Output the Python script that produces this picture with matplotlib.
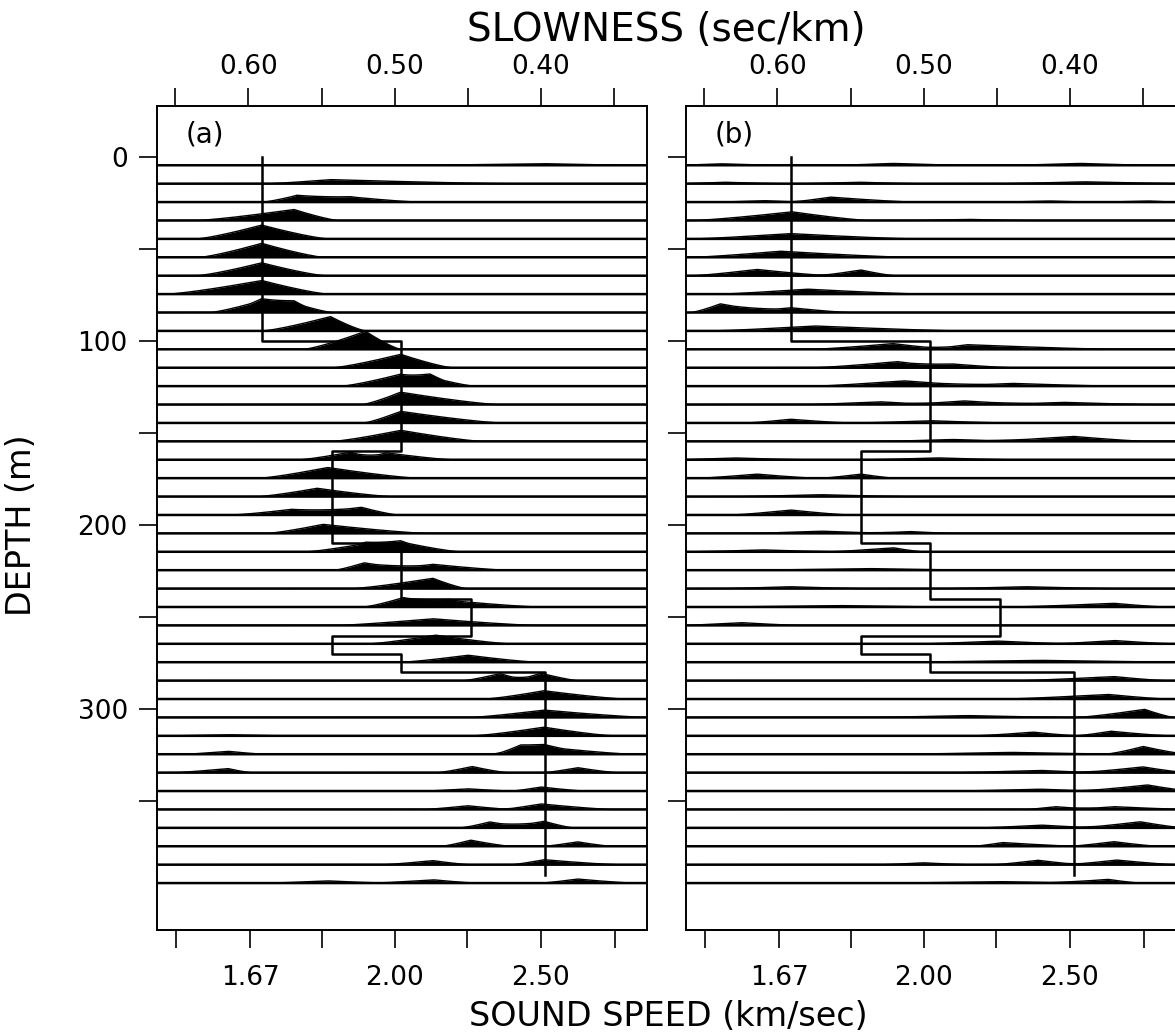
import numpy as np
import matplotlib.pyplot as plt
from matplotlib.ticker import FormatStrFormatter, NullFormatter

# --- datos
depths = np.arange(4.5, 400, 10)          # profundidad de cada traza (m)
layer_tops = [0, 100, 160, 210, 240, 260, 270, 280]
layer_bottom = 390
layer_slowness = [0.591, 0.496, 0.543, 0.496, 0.448, 0.543, 0.496, 0.397]

slow_major = [0.60, 0.50, 0.40]
slow_minor = [0.65, 0.55, 0.45, 0.35]
speed_ticks = [1.54, 1.67, 1.82, 2.00, 2.22, 2.50, 2.86]
speed_labels = ['', '1.67', '', '2.00', '', '2.50', '']
depth_major = [0, 100, 200, 300]
depth_minor = [50, 150, 250, 350]

# (traza, lentitud del pico, amplitud en m, ancho izq, ancho der)
peaks_a = [
    (0, 0.400, 0.9, 0.084, 0.064),
    (1, 0.544, 2.2, 0.043, 0.120),
    (2, 0.567, 3.6, 0.023, 0.040), (2, 0.530, 2.8, 0.040, 0.046),
    (3, 0.569, 6.0, 0.066, 0.030),
    (4, 0.591, 7.5, 0.044, 0.045),
    (5, 0.591, 7.6, 0.042, 0.042),
    (6, 0.591, 7.0, 0.044, 0.043),
    (7, 0.591, 7.4, 0.064, 0.045),
    (8, 0.591, 6.5, 0.035, 0.030), (8, 0.569, 5.2, 0.030, 0.026),
    (9, 0.544, 7.8, 0.046, 0.024),
    (10, 0.520, 9.8, 0.042, 0.024),
    (11, 0.496, 7.3, 0.046, 0.035),
    (12, 0.496, 6.5, 0.040, 0.030), (12, 0.476, 5.0, 0.020, 0.030),
    (13, 0.496, 6.7, 0.026, 0.066),
    (14, 0.496, 6.3, 0.025, 0.068),
    (15, 0.496, 6.0, 0.046, 0.055),
    (16, 0.530, 4.2, 0.035, 0.020), (16, 0.506, 3.8, 0.020, 0.045),
    (17, 0.546, 5.8, 0.046, 0.061),
    (18, 0.553, 4.5, 0.040, 0.050),
    (19, 0.571, 3.0, 0.040, 0.040), (19, 0.523, 4.2, 0.050, 0.025),
    (20, 0.549, 4.9, 0.038, 0.070),
    (21, 0.520, 4.5, 0.040, 0.030), (21, 0.496, 5.4, 0.030, 0.040),
    (22, 0.521, 4.0, 0.020, 0.040), (22, 0.474, 3.2, 0.040, 0.050),
    (23, 0.474, 5.6, 0.055, 0.023),
    (24, 0.494, 5.1, 0.027, 0.040), (24, 0.462, 3.5, 0.030, 0.060),
    (25, 0.474, 3.6, 0.065, 0.070),
    (26, 0.472, 4.7, 0.045, 0.050),
    (27, 0.450, 3.8, 0.045, 0.047),
    (28, 0.428, 3.8, 0.025, 0.020), (28, 0.400, 4.0, 0.020, 0.025),
    (29, 0.398, 4.5, 0.040, 0.055),
    (30, 0.398, 4.0, 0.050, 0.070),
    (31, 0.398, 4.7, 0.048, 0.047), (31, 0.614, 0.6, 0.040, 0.040),
    (32, 0.414, 3.5, 0.020, 0.030), (32, 0.398, 4.0, 0.030, 0.060),
    (32, 0.614, 1.6, 0.030, 0.025),
    (33, 0.614, 2.2, 0.037, 0.016), (33, 0.447, 3.3, 0.024, 0.024),
    (33, 0.375, 2.7, 0.023, 0.027),
    (34, 0.400, 2.2, 0.020, 0.030), (34, 0.450, 1.2, 0.030, 0.030),
    (35, 0.400, 3.0, 0.027, 0.048), (35, 0.450, 2.0, 0.030, 0.030),
    (36, 0.435, 3.2, 0.020, 0.030), (36, 0.398, 3.6, 0.030, 0.020),
    (37, 0.448, 3.3, 0.020, 0.027), (37, 0.375, 2.4, 0.023, 0.023),
    (38, 0.474, 2.2, 0.034, 0.025), (38, 0.398, 2.7, 0.022, 0.050),
    (39, 0.546, 1.2, 0.040, 0.040), (39, 0.474, 1.8, 0.040, 0.030),
    (39, 0.375, 2.2, 0.025, 0.038),
]

peaks_b = [
    (0, 0.639, 0.8, 0.030, 0.040), (0, 0.521, 1.0, 0.040, 0.050), (0, 0.393, 1.0, 0.050, 0.050),
    (1, 0.637, 0.8, 0.030, 0.040), (1, 0.545, 0.8, 0.040, 0.040), (1, 0.390, 1.0, 0.060, 0.070),
    (2, 0.564, 2.7, 0.027, 0.057), (2, 0.610, 0.8, 0.030, 0.030), (2, 0.415, 0.6, 0.030, 0.030),
    (2, 0.347, 0.6, 0.030, 0.020),
    (3, 0.590, 4.7, 0.067, 0.052), (3, 0.470, 0.6, 0.040, 0.040),
    (4, 0.592, 2.9, 0.065, 0.085),
    (5, 0.598, 3.3, 0.060, 0.087),
    (6, 0.614, 3.4, 0.044, 0.050), (6, 0.543, 3.1, 0.030, 0.023),
    (7, 0.580, 2.7, 0.060, 0.080),
    (8, 0.639, 4.7, 0.020, 0.040), (8, 0.591, 2.6, 0.040, 0.040),
    (9, 0.575, 2.7, 0.070, 0.100),
    (10, 0.521, 3.1, 0.055, 0.040), (10, 0.470, 2.5, 0.030, 0.100),
    (11, 0.518, 3.3, 0.057, 0.040), (11, 0.480, 2.0, 0.030, 0.040),
    (12, 0.514, 2.9, 0.060, 0.060), (12, 0.440, 1.5, 0.050, 0.070),
    (13, 0.473, 2.0, 0.040, 0.050), (13, 0.530, 1.5, 0.050, 0.040), (13, 0.405, 1.2, 0.050, 0.060),
    (14, 0.591, 2.0, 0.030, 0.040), (14, 0.495, 1.2, 0.050, 0.050),
    (15, 0.398, 2.7, 0.060, 0.050), (15, 0.480, 1.0, 0.050, 0.050),
    (16, 0.630, 1.0, 0.040, 0.050), (16, 0.490, 1.0, 0.050, 0.050),
    (17, 0.614, 2.2, 0.040, 0.040), (17, 0.543, 2.2, 0.027, 0.023),
    (18, 0.570, 1.0, 0.060, 0.060),
    (19, 0.591, 2.7, 0.040, 0.040),
    (20, 0.570, 1.2, 0.050, 0.050), (20, 0.510, 1.0, 0.030, 0.030),
    (21, 0.521, 2.2, 0.043, 0.020), (21, 0.610, 1.0, 0.050, 0.050),
    (22, 0.540, 0.9, 0.080, 0.080),
    (23, 0.591, 1.0, 0.050, 0.050), (23, 0.430, 1.0, 0.060, 0.060),
    (24, 0.370, 2.0, 0.070, 0.035), (24, 0.560, 0.8, 0.080, 0.080),
    (25, 0.625, 1.5, 0.040, 0.040),
    (26, 0.450, 1.5, 0.050, 0.050), (26, 0.370, 1.8, 0.040, 0.040),
    (27, 0.420, 1.0, 0.100, 0.100),
    (28, 0.370, 2.2, 0.065, 0.035),
    (29, 0.374, 2.5, 0.070, 0.040),
    (30, 0.349, 4.4, 0.046, 0.020), (30, 0.470, 1.0, 0.070, 0.070),
    (31, 0.425, 2.0, 0.040, 0.030), (31, 0.372, 2.5, 0.024, 0.040),
    (32, 0.350, 4.2, 0.025, 0.030), (32, 0.440, 1.0, 0.080, 0.080),
    (33, 0.350, 3.1, 0.045, 0.030), (33, 0.420, 1.2, 0.060, 0.040),
    (34, 0.347, 3.3, 0.048, 0.030), (34, 0.420, 1.0, 0.060, 0.040),
    (35, 0.410, 1.5, 0.020, 0.030), (35, 0.370, 1.5, 0.030, 0.050),
    (36, 0.352, 3.3, 0.043, 0.030), (36, 0.420, 1.5, 0.040, 0.040),
    (37, 0.446, 2.0, 0.020, 0.050), (37, 0.370, 2.5, 0.030, 0.030),
    (38, 0.422, 2.4, 0.030, 0.030), (38, 0.368, 2.5, 0.035, 0.040), (38, 0.500, 1.0, 0.030, 0.030),
    (39, 0.374, 2.0, 0.040, 0.022), (39, 0.450, 0.8, 0.070, 0.070),
]

xlim = (0.6625, 0.3275)
ylim = (420, -27.7)


def wiggle(s, peaks):
    w = np.zeros_like(s)
    for c, a, el, er in peaks:
        d = s - c
        ext = np.where(d > 0, el, er)   # d>0 -> lado izquierdo (lentitud mayor)
        w += a * np.clip(1 - np.abs(d) / ext, 0, None) ** 1.25
    return w


def inv(x):
    x = np.asarray(x, dtype=float)
    with np.errstate(divide='ignore'):
        return 1.0 / x


def draw_panel(ax, peaks, tag, show_ylabels):
    s = np.linspace(xlim[0], xlim[1], 3000)
    for i, z in enumerate(depths):
        w = wiggle(s, [p[1:] for p in peaks if p[0] == i])
        ax.fill_between(s, z, z - w, color='k', lw=0)
        ax.plot(s, z - w, color='k', lw=1.0)
        ax.plot(s, np.full_like(s, z), color='k', lw=1.8)

    # perfil de velocidad
    bounds = layer_tops + [layer_bottom]
    px, py = [], []
    for k, sl in enumerate(layer_slowness):
        px += [sl, sl]
        py += [bounds[k], bounds[k + 1]]
    ax.plot(px, py, color='k', lw=1.8)

    ax.set_xlim(*xlim)
    ax.set_ylim(*ylim)
    for sp in ax.spines.values():
        sp.set_linewidth(1.4)

    ax.xaxis.tick_top()
    ax.set_xticks(slow_major)
    ax.set_xticks(slow_minor, minor=True)
    ax.xaxis.set_major_formatter(FormatStrFormatter('%.2f'))
    ax.tick_params(axis='x', which='both', direction='out', length=13,
                   width=1.2, labelsize=19, pad=6)

    ax.set_yticks(depth_major)
    ax.set_yticks(depth_minor, minor=True)
    ax.tick_params(axis='y', which='both', direction='out', length=13,
                   width=1.2, labelsize=19, pad=8, labelleft=show_ylabels)

    sec = ax.secondary_xaxis('bottom', functions=(inv, inv))
    sec.set_xticks(speed_ticks)
    sec.set_xticklabels(speed_labels)
    sec.xaxis.set_minor_formatter(NullFormatter())
    sec.tick_params(axis='x', which='major', direction='out', length=13,
                    width=1.2, pad=12, labelsize=19)
    sec.tick_params(axis='x', which='minor', length=0)
    sec.spines['bottom'].set_linewidth(1.4)

    ax.text(0.098, 0.965, tag, transform=ax.transAxes, fontsize=20,
            ha='center', va='center')


fig = plt.figure(figsize=(11.75, 10.35), dpi=100)
ax_a = fig.add_axes([157 / 1175, 1 - 930 / 1035, 490 / 1175, 824 / 1035])
ax_b = fig.add_axes([686 / 1175, 1 - 930 / 1035, 490 / 1175, 824 / 1035])

draw_panel(ax_a, peaks_a, '(a)', True)
draw_panel(ax_b, peaks_b, '(b)', False)

fig.text(666 / 1175, 1 - 30 / 1035, 'SLOWNESS (sec/km)', fontsize=28,
         ha='center', va='center')
fig.text(668 / 1175, 1 - 1017 / 1035, 'SOUND SPEED (km/sec)', fontsize=24,
         ha='center', va='center')
fig.text(22 / 1175, 1 - 525 / 1035, 'DEPTH (m)', fontsize=24, rotation=90,
         ha='center', va='center')

fig.savefig('out.png', dpi=100)
